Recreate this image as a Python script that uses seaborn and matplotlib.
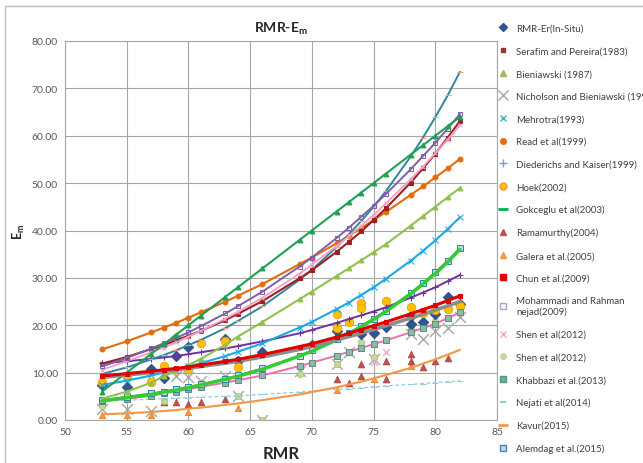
import matplotlib
matplotlib.use("Agg")
import matplotlib.pyplot as plt
from matplotlib.lines import Line2D
from matplotlib.patches import Rectangle
import seaborn as sns

# RMR values where the empirical curves are drawn
rmr = [53, 55, 57, 58, 59, 60, 61, 63, 64, 66, 69, 70, 72, 73, 74, 75, 76, 78, 79, 80, 81, 82]

# curves (Em, GPa)
bieniawski_line = [6, 10, 14, 16, 18, 20, 22, 26, 28, 32, 38, 40, 44, 46, 48, 50, 52, 56, 58, 60, 62, 64]
serafim = [11.9, 13.3, 15.0, 15.8, 16.8, 17.8, 18.8, 21.1, 22.4, 25.1, 29.9, 31.6, 35.5, 37.6, 39.8, 42.2, 44.7, 50.1, 53.1, 56.2, 59.6, 63.1]
mehrotra = [7.4, 8.3, 9.4, 10.0, 10.6, 11.3, 12.0, 13.5, 14.4, 16.2, 19.5, 20.7, 23.4, 24.8, 26.4, 28.0, 29.8, 33.6, 35.7, 37.9, 40.3, 42.8]
read = [14.9, 16.6, 18.5, 19.5, 20.5, 21.6, 22.7, 25.0, 26.2, 28.7, 32.9, 34.3, 37.3, 38.9, 40.5, 42.2, 43.9, 47.5, 49.3, 51.2, 53.1, 55.1]
gokceoglu = [4.0, 4.7, 5.4, 5.9, 6.3, 6.8, 7.4, 8.6, 9.2, 10.7, 13.5, 14.5, 16.9, 18.2, 19.7, 21.2, 22.9, 26.6, 28.7, 30.9, 33.3, 36.0]
mohammadi = [11.3, 13.1, 15.1, 16.2, 17.3, 18.5, 19.8, 22.5, 24.0, 27.1, 32.4, 34.3, 38.4, 40.6, 42.9, 45.2, 47.7, 52.9, 55.7, 58.5, 61.5, 64.6]
teal_curve = [9.7, 11.1, 12.8, 13.7, 14.7, 15.8, 16.9, 19.4, 20.9, 24.0, 29.6, 31.7, 36.5, 39.2, 42.0, 45.0, 48.3, 55.6, 59.6, 63.9, 68.5, 73.5]
shen_curve = [10.6, 12.4, 14.3, 15.3, 16.4, 17.6, 18.8, 21.4, 22.8, 25.8, 30.9, 32.8, 36.7, 38.8, 41.0, 43.3, 45.7, 50.8, 53.5, 56.3, 59.2, 62.2]
diederichs = [12.0, 12.4, 12.9, 13.2, 13.5, 13.9, 14.3, 15.1, 15.6, 16.6, 18.3, 19.0, 20.5, 21.3, 22.1, 22.9, 23.8, 25.8, 26.9, 28.0, 29.3, 30.6]
chun = [9.3, 9.8, 10.3, 10.6, 10.9, 11.2, 11.6, 12.4, 12.8, 13.8, 15.5, 16.1, 17.5, 18.3, 19.1, 19.9, 20.7, 22.4, 23.3, 24.2, 25.2, 26.2]
grey_curve = [9.0, 9.5, 10.0, 10.3, 10.6, 10.9, 11.3, 12.0, 12.4, 13.3, 14.9, 15.5, 16.9, 17.6, 18.3, 19.1, 19.9, 21.5, 22.3, 23.2, 24.1, 25.0]
alemdag = [4.2, 4.9, 5.6, 6.0, 6.5, 7.0, 7.5, 8.7, 9.4, 10.9, 13.6, 14.7, 17.1, 18.4, 19.9, 21.4, 23.1, 26.8, 28.9, 31.2, 33.6, 36.3]
khabbazi = [4.0, 4.5, 5.1, 5.6, 6.0, 6.5, 7.0, 7.9, 8.4, 9.4, 11.4, 12.1, 13.6, 14.4, 15.2, 16.0, 16.8, 18.5, 19.4, 20.3, 21.5, 22.7]
kavur = [1.2, 1.4, 1.7, 1.9, 2.1, 2.4, 2.6, 3.2, 3.5, 4.2, 5.4, 5.9, 6.9, 7.5, 8.1, 8.8, 9.5, 11.0, 11.9, 12.8, 13.8, 14.8]
nejati = [4.0, 4.2, 4.4, 4.5, 4.6, 4.7, 4.8, 5.0, 5.1, 5.4, 5.9, 6.1, 6.5, 6.6, 6.8, 7.0, 7.2, 7.5, 7.7, 7.9, 8.1, 8.3]
light_green = [4.5, 6.0, 7.9, 9.2, 10.4, 11.6, 12.9, 15.9, 17.6, 20.7, 25.5, 27.1, 30.4, 32.0, 33.7, 35.4, 37.1, 41.0, 43.0, 45.0, 47.0, 49.0]

# scattered points
er_x = [53, 55, 57, 58, 59, 60, 63, 64, 66, 70, 72, 74, 75, 76, 78, 78, 79, 80, 81, 82]
er_y = [7.3, 7.0, 10.8, 8.8, 13.6, 15.5, 17.1, 12.5, 14.3, 15.8, 18.8, 18.1, 18.3, 19.6, 20.3, 22.0, 20.7, 22.4, 25.9, 24.5]
hoek_x = [53, 55, 57, 58, 59, 60, 61, 63, 64, 72, 72, 73, 74, 74, 76, 78, 79, 80, 81, 82]
hoek_y = [8.0, 9.0, 8.0, 11.5, 17.4, 10.8, 16.2, 16.7, 11.2, 22.4, 19.5, 20.6, 24.6, 23.6, 25.2, 23.9, 22.5, 23.2, 23.5, 24.0]
nich_x = [53, 55, 57, 59, 60, 61, 63, 64, 66, 69, 72, 73, 75, 78, 79, 80, 81, 82]
nich_y = [2.3, 2.3, 2.0, 9.3, 9.0, 8.3, 9.3, 5.1, 0.0, 10.4, 11.8, 14.3, 12.9, 18.1, 17.2, 18.8, 19.4, 21.7]
rama_x = [58, 59, 60, 61, 63, 72, 73, 74, 74, 76, 76, 78, 78, 79, 80, 81]
rama_y = [3.7, 3.7, 3.4, 3.9, 4.4, 8.6, 7.9, 11.8, 9.3, 12.4, 8.6, 13.9, 12.5, 11.1, 12.4, 13.1]
galera_x = [53, 55, 57, 60, 64, 72, 75, 78]
galera_y = [1.0, 1.0, 1.0, 1.6, 2.5, 6.4, 8.6, 11.5]
shen2_x = [53, 55, 58, 64, 66, 69, 72, 74, 75, 78, 80]
shen2_y = [3.0, 5.5, 4.0, 5.0, 0.0, 9.8, 11.8, 16.4, 13.3, 19.5, 21.0]
shen1_x = [75, 76]
shen1_y = [12.3, 14.4]

sns.set_style("white")
plt.rcParams['font.family'] = ['Lato', 'DejaVu Sans']
plt.rcParams['mathtext.fontset'] = 'custom'
plt.rcParams['mathtext.bf'] = 'Lato:bold'
plt.rcParams['mathtext.rm'] = 'Lato'

fig = plt.figure(figsize=(6.43, 4.64), dpi=100)
ax = fig.add_axes([65 / 643, 43 / 464, 432 / 643, 379 / 464])

# scatter data first
sns.scatterplot(x=galera_x, y=galera_y, ax=ax, marker='^', s=22, color='#F79646', edgecolor='#E46C0A', linewidth=0.4, zorder=2)
sns.scatterplot(x=rama_x, y=rama_y, ax=ax, marker='^', s=25, color='#C0504D', edgecolor='#A0403D', linewidth=0.4, zorder=2)
sns.scatterplot(x=nich_x, y=nich_y, ax=ax, marker='x', s=60, color='#A6A6A6', linewidth=1.0, zorder=2)
sns.scatterplot(x=shen2_x, y=shen2_y, ax=ax, marker='o', s=22, color='#C4D79B', edgecolor='#9BBB59', linewidth=0.4, zorder=2)
sns.scatterplot(x=shen1_x, y=shen1_y, ax=ax, marker='x', s=22, color='#F4A6C8', linewidth=1.0, zorder=2)
sns.scatterplot(x=er_x, y=er_y, ax=ax, marker='D', s=30, color='#2F5597', edgecolor='#1F3864', linewidth=0.4, zorder=2)
sns.scatterplot(x=hoek_x, y=hoek_y, ax=ax, marker='o', s=38, color='#FFC000', edgecolor='#E69B00', linewidth=0.5, zorder=2)

# curves
def curve(vals, color, lw=1.3, marker=None, ms=3, mfc=None, mec=None, ls='-', z=3):
    sns.lineplot(x=rmr, y=vals, ax=ax, color=color, linewidth=lw, linestyle=ls,
                 marker=marker, markersize=ms,
                 markerfacecolor=mfc if mfc else color,
                 markeredgecolor=mec if mec else color, zorder=z)

curve(nejati, '#93CDDD', lw=0.9, marker='_', ms=5, ls=(0, (3, 2)))
curve(kavur, '#F79646', lw=1.5)
curve(khabbazi, '#F06EAA', lw=1.4, marker='s', ms=4, mfc='#8FB8A8', mec='#5F8F7F')
curve(alemdag, '#3F8A7F', lw=1.4, marker='s', ms=4, mfc='#B7DEE8', mec='#31859C')
curve(gokceoglu, '#33CC33', lw=2.4, z=4)
curve(grey_curve, '#8C8C8C', lw=2.6, z=4)
curve(chun, '#E00000', lw=2.2, marker='s', ms=3, z=5)
curve(diederichs, '#7030A0', lw=1.4, marker='+', ms=5)
curve(mehrotra, '#1CA8E0', lw=1.5, marker='x', ms=4)
curve(light_green, '#92C050', lw=1.5, marker='^', ms=3.5)
curve(read, '#E46C0A', lw=1.5, marker='o', ms=3.5)
curve(teal_curve, '#31859C', lw=1.4, marker='_', ms=4, mec='#F4A07A')
curve(serafim, '#A02020', lw=1.5, marker='s', ms=2.5)
curve(shen_curve, '#F4A0C8', lw=1.3, marker='x', ms=3.5)
curve(mohammadi, '#7F5FA8', lw=1.4, marker='s', ms=3.5, mfc='none', mec='#7F5FA8')
curve(bieniawski_line, '#1FA055', lw=1.5, marker='^', ms=3.5)

ax.set_xlim(50, 85)
ax.set_ylim(0, 80)
ax.set_xticks(range(50, 86, 5))
ax.set_yticks(range(0, 81, 10))
ax.set_yticklabels([f"{v:.2f}" for v in range(0, 81, 10)])
ax.grid(True, color='#A6A6A6', linewidth=0.8)
ax.set_axisbelow(True)
for s in ax.spines.values():
    s.set_color('#A6A6A6')
    s.set_linewidth(0.8)
ax.tick_params(axis='both', labelsize=7.5, labelcolor='#595959', length=3, color='#A6A6A6', pad=2)

ax.set_title('RMR-E$_\\mathbf{m}$', fontsize=10, fontweight='bold', pad=7)
ax.set_xlabel('RMR', fontsize=12, fontweight='bold')
ax.set_ylabel('E$_\\mathbf{m}$', fontsize=9, fontweight='bold')
ax.xaxis.set_label_coords(0.5, -0.065)
ax.yaxis.set_label_coords(-0.088, 0.5)

# legend (markers only, as in the source chart)
entries = [
    ('RMR-Er(In-Situ)', dict(marker='D', color='#2F5597', ms=4)),
    ('Serafim and Pereira(1983)', dict(marker='s', color='#943634', ms=3)),
    ('Bieniawski (1987)', dict(marker='^', color='#9BBB59', ms=4)),
    ('Nicholson and Bieniawski (1990)', dict(marker='x', color='#A6A6A6', ms=7)),
    ('Mehrotra(1993)', dict(marker='x', color='#4BACC6', ms=4)),
    ('Read et al(1999)', dict(marker='o', color='#E46C0A', ms=4)),
    ('Diederichs and Kaiser(1999)', dict(marker='+', color='#7F9DB9', ms=6)),
    ('Hoek(2002)', dict(marker='o', color='#FFC000', mec='#F79646', ms=5)),
    ('Gokceglu et al(2003)', dict(marker='_', color='#00B050', ms=7, mew=2)),
    ('Ramamurthy(2004)', dict(marker='^', color='#C0504D', ms=5)),
    ('Galera et al.(2005)', dict(marker='^', color='#F79646', ms=4)),
    ('Chun et al.(2009)', dict(marker='s', color='#E00000', ms=4)),
    ('Mohammadi and Rahman\nnejad(2009)', dict(marker='s', color='#B3A2C7', mfc='none', ms=4)),
    ('Shen et al(2012)', dict(marker='x', color='#F4A6C8', ms=4)),
    ('Shen et al(2012)', dict(marker='o', color='#C4D79B', ms=4)),
    ('Khabbazi et al.(2013)', dict(marker='s', color='#4F9A7F', mfc='#6FAF98', ms=4)),
    ('Nejati et al(2014)', dict(marker='_', color='#93CDDD', ms=5, mew=1.5)),
    ('Kavur(2015)', dict(marker='_', color='#F79646', ms=7, mew=2)),
    ('Alemdag et al.(2015)', dict(marker='s', color='#4F81BD', mfc='#B7DEE8', ms=5)),
]
handles = [Line2D([], [], linestyle='none', **kw) for _, kw in entries]
labels = [lab for lab, _ in entries]
fig.legend(handles, labels, loc='upper left', bbox_to_anchor=(494 / 643, 1 - 21 / 464),
           frameon=False, fontsize=7, labelspacing=1.4, handlelength=1.0,
           handletextpad=0.9, borderaxespad=0, labelcolor='#404040')

# chart-area border
fig.add_artist(Rectangle((5 / 643, -0.05), 2, 1 - 7 / 464 + 0.05, transform=fig.transFigure,
                         fill=False, edgecolor='#BFBFBF', linewidth=1))

fig.savefig('out.png', dpi=100)
